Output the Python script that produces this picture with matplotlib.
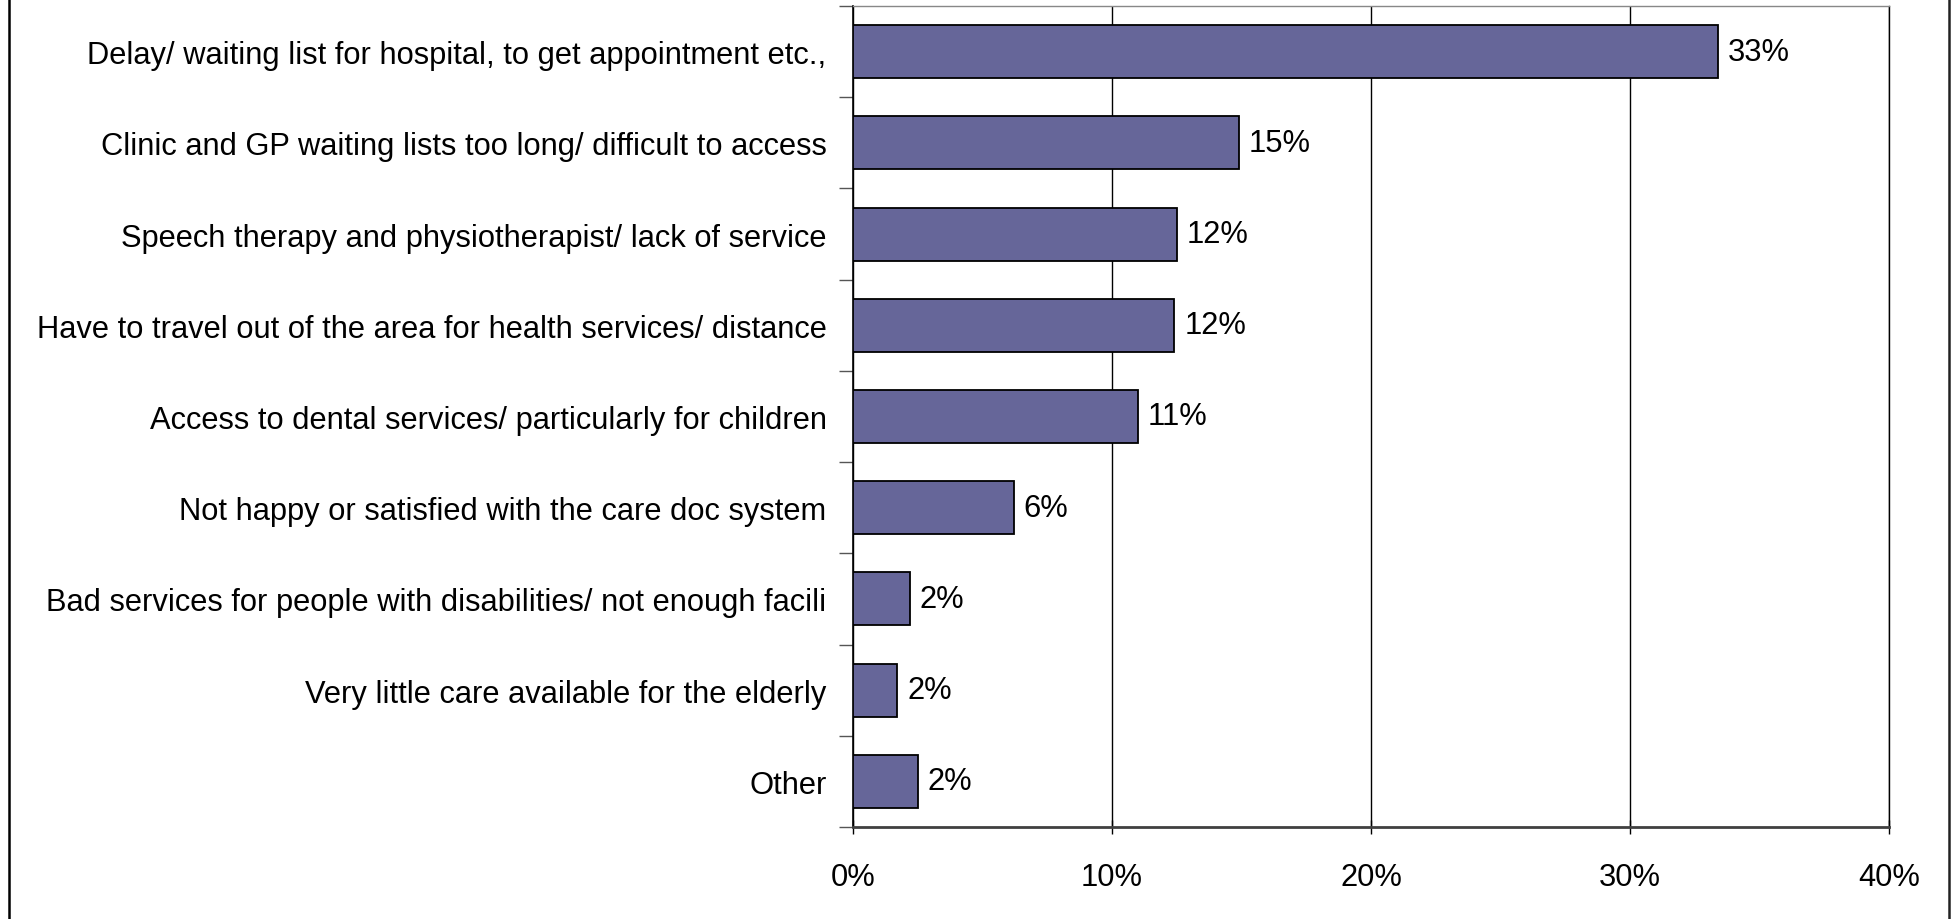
import matplotlib
matplotlib.use("Agg")
import matplotlib.pyplot as plt
from matplotlib.lines import Line2D

categories = [
    "Delay/ waiting list for hospital, to get appointment etc.,",
    "Clinic and GP waiting lists too long/ difficult to access",
    "Speech therapy and physiotherapist/ lack of service",
    "Have to travel out of the area for health services/ distance",
    "Access to dental services/ particularly for children",
    "Not happy or satisfied with the care doc system",
    "Bad services for people with disabilities/ not enough facili",
    "Very little care available for the elderly",
    "Other",
]
values = [33.4, 14.9, 12.5, 12.4, 11.0, 6.2, 2.2, 1.7, 2.5]
value_labels = ["33%", "15%", "12%", "12%", "11%", "6%", "2%", "2%", "2%"]
xticks = [0, 10, 20, 30, 40]
xtick_labels = ["0%", "10%", "20%", "30%", "40%"]

W, H = 1959, 920
fig = plt.figure(figsize=(W / 100, H / 100), dpi=100)
plt.rcParams['font.family'] = ['Liberation Sans', 'DejaVu Sans']
FS = 22.2

left, right, top, bottom = 853, 1889, 7, 828
ax = fig.add_axes([left / W, 1 - bottom / H, (right - left) / W, (bottom - top) / H])

n = len(categories)
ypos = list(range(n))
ax.barh(ypos, values, height=0.58, color="#666699", edgecolor="black", linewidth=1.3, zorder=3)
ax.set_ylim(n - 0.5, -0.5)
ax.set_xlim(0, 40)

for y, v, lab in zip(ypos, values, value_labels):
    ax.annotate(lab, (v, y), xytext=(10, 0), textcoords="offset pixels",
                va="center", ha="left", fontsize=FS, color="black")

ax.set_xticks(xticks)
ax.set_xticklabels(xtick_labels, fontsize=FS)
ax.set_yticks([i - 0.5 for i in range(n + 1)], minor=False)
ax.set_yticklabels([])
ax.set_yticks(ypos, minor=True)
ax.set_yticklabels(categories, minor=True, fontsize=FS)
ax.tick_params(axis="y", which="minor", length=0, pad=19)
ax.tick_params(axis="y", which="major", length=10, width=1, color="#555555", direction="out")
ax.tick_params(axis="x", which="major", length=10, width=1, color="black", direction="inout", pad=20)

ax.grid(axis="x", color="black", linewidth=1, zorder=0)
ax.set_axisbelow(True)
ax.spines["right"].set_color("black")
ax.spines["right"].set_linewidth(1)
ax.spines["top"].set_color("#888888")
ax.spines["top"].set_linewidth(1)
ax.spines["left"].set_color("black")
ax.spines["left"].set_linewidth(1.2)
ax.spines["bottom"].set_color("#404040")
ax.spines["bottom"].set_linewidth(2)

# figure border lines left and right
fig.add_artist(Line2D([9 / W, 9 / W], [0, 1], color="black", linewidth=1.8, transform=fig.transFigure))
fig.add_artist(Line2D([1949 / W, 1949 / W], [0, 1], color="#222222", linewidth=1.8, transform=fig.transFigure))

fig.savefig("out.png", dpi=100)
